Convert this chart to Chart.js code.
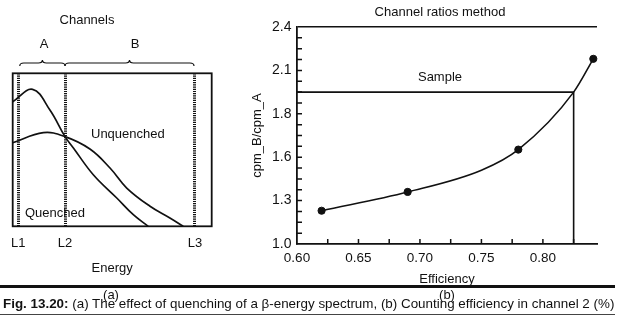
<!DOCTYPE html>
<html><head><meta charset="utf-8">
<script src="https://cdn.jsdelivr.net/npm/chart.js@4.4.1/dist/chart.umd.min.js"></script>
<style>
html,body{margin:0;padding:0;background:#fff;}
#wrap{position:relative;width:624px;height:321px;overflow:hidden;font-family:'Liberation Sans',Arial,Helvetica,sans-serif;color:#111;background:#fff;}
canvas{position:absolute;top:0;}
.t{position:absolute;white-space:nowrap;font-size:13px;line-height:16px;z-index:3;}
.c{transform:translateX(-50%);}
.rule{position:absolute;left:0;z-index:2;}
</style></head><body>
<div id="wrap">
<canvas id="ca" width="220" height="321" style="left:0;width:220px;height:321px"></canvas>
<canvas id="cb" width="404" height="321" style="left:220px;width:404px;height:321px"></canvas>
<div class="rule" style="top:285px;width:615px;height:3px;background:#111"></div>
<div class="rule" style="top:314px;width:615px;height:1px;background:#444"></div>
<div class="t c" style="left:87px;top:12px">Channels</div>
<div class="t c" style="left:44px;top:36px">A</div>
<div class="t c" style="left:135px;top:36px">B</div>
<div class="t" style="left:91px;top:126px">Unquenched</div>
<div class="t" style="left:25px;top:205px">Quenched</div>
<div class="t c" style="left:111px;top:287px">(a)</div>
<div class="t c" style="left:440px;top:4px">Channel ratios method</div>
<div class="t c" style="left:440px;top:69px">Sample</div>
<div class="t c" style="left:447px;top:287px">(b)</div>
<div class="t" style="left:3px;top:296px;font-size:13.4px"><b>Fig. 13.20:</b> (a) The effect of quenching of a β-energy spectrum, (b) Counting efficiency in channel 2 (%)</div>
</div>
<script>
// ---- Panel (a): beta-energy spectra ----
const CHANNEL_LIMITS = [2.8, 26.3, 91.6];
const CHANNEL_LABELS = ['L1', 'L2', 'L3'];
const ENERGY_QUENCHED = [0, 10, 18.7, 26.3, 30.5, 40.5, 52.3, 60.6, 68.1];
const COUNTS_QUENCHED = [81.4, 89.5, 76.0, 58.6, 51.2, 33.7, 18.5, 7.6, 0];
const ENERGY_UNQUENCHED = [0, 15.4, 26.3, 38.8, 48.9, 57.3, 69.0, 79.0, 85.7];
const COUNTS_UNQUENCHED = [54.6, 61.2, 58.6, 50.5, 38.1, 25.0, 13.1, 5.4, 0];

// ---- Panel (b): channel ratios method ----
const EFFICIENCY = [0.62, 0.69, 0.78, 0.841];
const CHANNEL_RATIO = [1.23, 1.36, 1.635, 2.18];
const FIT_EFFICIENCY = [0.62, 0.69, 0.75, 0.78, 0.825, 0.841];
const FIT_RATIO = [1.23, 1.36, 1.51, 1.635, 1.95, 2.18];
const SAMPLE_RATIO = 1.95;
const SAMPLE_EFFICIENCY = 0.825;
const RATIO_TICKS = [1.0, 1.3, 1.6, 1.8, 2.1, 2.4];
const EFFICIENCY_TICKS = [0.60, 0.65, 0.70, 0.75, 0.80];
const EFFICIENCY_MARKS = [0.625, 0.65, 0.675, 0.70, 0.725, 0.75, 0.775, 0.80, 0.825];
const RATIO_SUBDIVISIONS = 4;

const INK = '#111';
Chart.defaults.font.family = "'Liberation Sans', Arial, Helvetica, sans-serif";
Chart.defaults.color = INK;

// Axis whose labelled ticks are evenly spaced (as printed in the figure)
class PiecewiseScale extends Chart.LinearScale {
  static id = 'piecewise';
  static defaults = {};
  buildTicks() {
    this.start = this.min; this.end = this.max;
    return RATIO_TICKS.map(v => ({ value: v }));
  }
  _dec(value) {
    const b = RATIO_TICKS, n = b.length - 1;
    let i = 0;
    while (i < n - 1 && value > b[i + 1]) i++;
    return (i + (value - b[i]) / (b[i + 1] - b[i])) / n;
  }
  getPixelForValue(value) {
    if (value === null || isNaN(value)) return NaN;
    return this.getPixelForDecimal(this._dec(value));
  }
  getValueForPixel(pixel) {
    const b = RATIO_TICKS, n = b.length - 1;
    const t = this.getDecimalForPixel(pixel) * n;
    const i = Math.max(0, Math.min(n - 1, Math.floor(t)));
    return b[i] + (t - i) * (b[i + 1] - b[i]);
  }
}
Chart.register(PiecewiseScale);

const boxPlugin = {
  id: 'boxAndBraces',
  afterDraw(chart) {
    const { ctx, chartArea: a, scales: { x } } = chart;
    ctx.save();
    ctx.strokeStyle = INK;
    ctx.lineWidth = 1.8;
    ctx.strokeRect(a.left, a.top, a.right - a.left, a.bottom - a.top);
    const brace = (x1, x2) => {
      const mid = (x1 + x2) / 2, yb = 63, yt = 60, ye = 66, r = 4;
      ctx.beginPath();
      ctx.moveTo(x1, ye);
      ctx.quadraticCurveTo(x1, yb, x1 + r, yb);
      ctx.lineTo(mid - r, yb);
      ctx.quadraticCurveTo(mid, yb, mid, yt);
      ctx.quadraticCurveTo(mid, yb, mid + r, yb);
      ctx.lineTo(x2 - r, yb);
      ctx.quadraticCurveTo(x2, yb, x2, ye);
      ctx.stroke();
    };
    ctx.lineWidth = 1.2;
    const px = CHANNEL_LIMITS.map(v => x.getPixelForValue(v));
    brace(px[0] + 1.5, px[1]);
    brace(px[1], px[2] - 1);
    ctx.restore();
  }
};

new Chart(document.getElementById('ca'), {
  type: 'line',
  data: {
    datasets: [
      { label: 'Quenched', data: ENERGY_QUENCHED.map((x, i) => ({ x, y: COUNTS_QUENCHED[i] })),
        borderColor: INK, borderWidth: 1.7, pointRadius: 0, tension: 0.4 },
      { label: 'Unquenched', data: ENERGY_UNQUENCHED.map((x, i) => ({ x, y: COUNTS_UNQUENCHED[i] })),
        borderColor: INK, borderWidth: 1.7, pointRadius: 0, tension: 0.4 }
    ]
  },
  options: {
    responsive: false, animation: false, devicePixelRatio: 1,
    layout: { padding: { left: 12.7, right: 8.3, top: 73.3, bottom: 34.7 } },
    plugins: { legend: { display: false }, tooltip: { enabled: false } },
    scales: {
      x: {
        type: 'linear', min: 0, max: 100,
        afterBuildTicks: s => { s.ticks = CHANNEL_LIMITS.map(v => ({ value: v })); },
        afterFit: s => { s.height = 60; },
        grid: { display: true, drawOnChartArea: true, drawTicks: false, color: INK, lineWidth: 3 },
        border: { display: false, dash: [1.2, 1] },
        ticks: { padding: 8.9, color: INK, font: { size: 13 }, callback: (v, i) => CHANNEL_LABELS[i], autoSkip: false, maxRotation: 0 },
        title: { display: true, text: 'Energy', color: INK, font: { size: 13 }, padding: { top: 0, bottom: 10.5 } }
      },
      y: { type: 'linear', min: 0, max: 100, display: false }
    }
  },
  plugins: [boxPlugin]
});

const tickPlugin = {
  id: 'inwardTicks',
  afterDraw(chart) {
    const { ctx, chartArea: a, scales: { x, y } } = chart;
    ctx.save();
    ctx.strokeStyle = INK;
    ctx.lineWidth = 1.5;
    const n = (RATIO_TICKS.length - 1) * RATIO_SUBDIVISIONS;
    ctx.beginPath();
    for (let k = 1; k < n; k++) {
      const py = y.getPixelForDecimal(k / n);
      ctx.moveTo(a.left, py); ctx.lineTo(a.left + 5, py);
    }
    EFFICIENCY_MARKS.forEach(v => {
      const pxx = x.getPixelForValue(v);
      ctx.moveTo(pxx, a.bottom); ctx.lineTo(pxx, a.bottom - 5);
    });
    ctx.stroke();
    ctx.restore();
  }
};

new Chart(document.getElementById('cb'), {
  type: 'line',
  data: {
    datasets: [
      { label: 'Sample', data: [{ x: EFFICIENCY_TICKS[0], y: SAMPLE_RATIO }, { x: SAMPLE_EFFICIENCY, y: SAMPLE_RATIO }, { x: SAMPLE_EFFICIENCY, y: RATIO_TICKS[0] }],
        borderColor: INK, borderWidth: 1.6, pointRadius: 0, tension: 0 },
      { label: 'Calibration curve', data: FIT_EFFICIENCY.map((x, i) => ({ x, y: FIT_RATIO[i] })),
        borderColor: INK, borderWidth: 1.6, pointRadius: 0, cubicInterpolationMode: 'monotone' },
      { label: 'Standards', data: EFFICIENCY.map((x, i) => ({ x, y: CHANNEL_RATIO[i] })),
        showLine: false, pointRadius: 3.6, pointBackgroundColor: INK, pointBorderColor: INK, clip: false }
    ]
  },
  options: {
    responsive: false, animation: false, devicePixelRatio: 1,
    layout: { padding: { left: 0, right: 27, top: 27, bottom: 27 } },
    plugins: { legend: { display: false }, tooltip: { enabled: false } },
    scales: {
      x: {
        type: 'linear', min: 0.6, max: 0.844,
        afterBuildTicks: s => { s.ticks = EFFICIENCY_TICKS.map(v => ({ value: v })); },
        afterFit: s => { s.height = 50; },
        grid: { display: false, drawTicks: false },
        border: { display: true, color: INK, width: 1.8 },
        ticks: { padding: 6, color: INK, font: { size: 13.5 }, callback: v => Number(v).toFixed(2), autoSkip: false, maxRotation: 0 },
        title: { display: true, text: 'Efficiency', color: INK, font: { size: 13 }, padding: { top: 0, bottom: 7.2 } }
      },
      y: {
        type: 'piecewise', min: RATIO_TICKS[0], max: RATIO_TICKS[RATIO_TICKS.length - 1],
        afterFit: s => { s.width = 77; },
        grid: { drawTicks: false, lineWidth: 1.6, color: c => (c.index === RATIO_TICKS.length - 1 ? INK : 'rgba(0,0,0,0)') },
        border: { display: true, color: INK, width: 1.8 },
        ticks: { padding: 5.5, color: INK, font: { size: 14 }, callback: v => Number(v).toFixed(1), autoSkip: false },
        title: { display: true, text: 'cpm_B/cpm_A', color: INK, font: { size: 13 }, padding: { top: 30, bottom: 0 } }
      }
    }
  },
  plugins: [tickPlugin]
});
</script>
</body></html>
